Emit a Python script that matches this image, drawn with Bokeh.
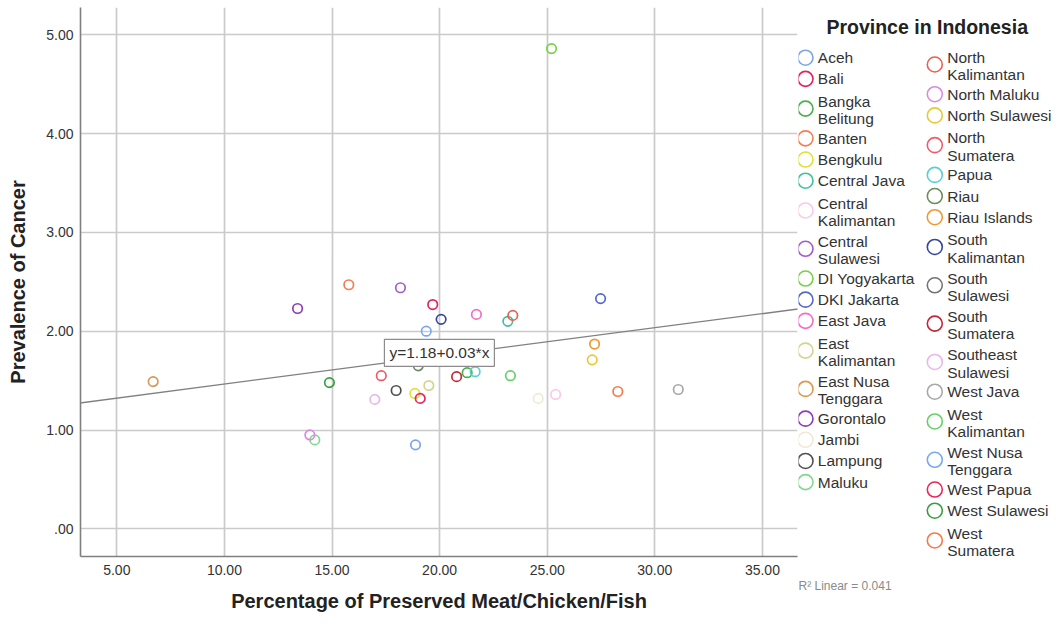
from bokeh.plotting import figure
from bokeh.models import FixedTicker, Slope, Label, ColumnDataSource, Range1d, Title
from bokeh.layouts import row
from bokeh.core.properties import value
from bokeh.embed import file_html
from bokeh.resources import INLINE

# ---------------- data ----------------
provinces = [
    "Aceh", "Bali", "Bangka Belitung", "Banten", "Bengkulu", "Central Java",
    "Central Kalimantan", "Central Sulawesi", "DI Yogyakarta", "DKI Jakarta",
    "East Java", "East Kalimantan", "East Nusa Tenggara", "Gorontalo", "Jambi",
    "Lampung", "Maluku", "North Kalimantan", "North Maluku", "North Sulawesi",
    "North Sumatera", "Papua", "Riau", "Riau Islands", "South Kalimantan",
    "South Sulawesi", "South Sumatera", "Southeast Sulawesi", "West Java",
    "West Kalimantan", "West Nusa Tenggara", "West Papua", "West Sulawesi",
    "West Sumatera",
]
legend_labels = [
    "Aceh", "Bali", "Bangka\nBelitung", "Banten", "Bengkulu", "Central Java",
    "Central\nKalimantan", "Central\nSulawesi", "DI Yogyakarta", "DKI Jakarta",
    "East Java", "East\nKalimantan", "East Nusa\nTenggara", "Gorontalo", "Jambi",
    "Lampung", "Maluku", "North\nKalimantan", "North Maluku", "North Sulawesi",
    "North\nSumatera", "Papua", "Riau", "Riau Islands", "South\nKalimantan",
    "South\nSulawesi", "South\nSumatera", "Southeast\nSulawesi", "West Java",
    "West\nKalimantan", "West Nusa\nTenggara", "West Papua", "West Sulawesi",
    "West\nSumatera",
]
preserved_pct = [
    18.88, 19.68, 21.28, 15.78, 18.85, 23.17,
    25.39, 18.18, 25.20, 27.48,
    21.71, 19.50, 6.69, 13.40, 24.58,
    17.98, 14.20, 23.40, 13.97, 27.09,
    17.29, 21.65, 19.01, 27.20, 20.07,
    20.50, 20.79, 16.99, 31.09,
    23.29, 19.38, 19.10, 14.88,
    28.28,
]
cancer_prev = [
    0.85, 2.27, 1.58, 2.47, 1.37, 2.10,
    1.36, 2.44, 4.86, 2.33,
    2.17, 1.45, 1.49, 2.23, 1.32,
    1.40, 0.90, 2.16, 0.95, 1.71,
    1.55, 1.59, 1.65, 1.87, 2.12,
    1.80, 1.54, 1.31, 1.41,
    1.55, 2.00, 1.32, 1.48,
    1.39,
]
colors = [
    "#7aa6e8", "#e0245e", "#4cae4c", "#f47c52", "#e2de3c", "#3fc0a0",
    "#fcc8e8", "#a45cc8", "#78d048", "#5468c8",
    "#f06ec8", "#d4d490", "#d89850", "#8c3cb4", "#efead4",
    "#505050", "#80d890", "#e86050", "#d88ae0", "#e8c838",
    "#f25868", "#58d0d0", "#6c8c5c", "#f09830", "#34479c",
    "#747474", "#c02838", "#e8b8ec", "#a8a8a8",
    "#68d068", "#78a8f0", "#e8285c", "#38a040",
    "#f87848",
]
x_ticks = [5, 10, 15, 20, 25, 30, 35]
x_tick_labels = ["5.00", "10.00", "15.00", "20.00", "25.00", "30.00", "35.00"]
y_ticks = [0, 1, 2, 3, 4, 5]
y_tick_labels = [".00", "1.00", "2.00", "3.00", "4.00", "5.00"]
fit_intercept = 1.18
fit_slope = 0.0285
fit_text = "y=1.18+0.03*x"
r2_text = "R\u00b2 Linear = 0.041"
legend_title = "Province in Indonesia"
x_title = "Percentage of Preserved Meat/Chicken/Fish"
y_title = "Prevalence of Cancer"

FONT = "Liberation Sans"
TOTAL_W, TOTAL_H = 1052, 614
MAIN_W = 798
FRAME_TOP, FRAME_BOTTOM = 7, 557

# ---------------- main plot ----------------
p = figure(width=MAIN_W, height=TOTAL_H,
           x_range=Range1d(3.313, 36.63), y_range=Range1d(-0.28, 5.276),
           output_backend="svg", toolbar_location=None,
           min_border_left=80, min_border_right=1,
           min_border_top=FRAME_TOP, min_border_bottom=TOTAL_H - FRAME_BOTTOM)
p.outline_line_color = None
p.background_fill_color = "white"

src = ColumnDataSource(dict(x=preserved_pct, y=cancer_prev, c=colors, name=provinces))

p.xaxis.ticker = FixedTicker(ticks=x_ticks)
p.yaxis.ticker = FixedTicker(ticks=y_ticks)
p.xaxis.major_label_overrides = {t: l for t, l in zip(x_ticks, x_tick_labels)}
p.yaxis.major_label_overrides = {t: l for t, l in zip(y_ticks, y_tick_labels)}
p.xgrid.ticker = FixedTicker(ticks=x_ticks)
p.ygrid.ticker = FixedTicker(ticks=y_ticks)
p.grid.grid_line_color = "#cacaca"
p.grid.grid_line_width = 1.7

for ax in (p.xaxis[0], p.yaxis[0]):
    ax.axis_line_color = "#7f7f7f"
    ax.axis_line_width = 1.6
    ax.major_tick_line_color = None
    ax.minor_tick_line_color = None
    ax.major_tick_out = 0
    ax.major_tick_in = 0
    ax.major_label_text_font = FONT
    ax.major_label_text_font_size = "14px"
    ax.major_label_text_color = "#333333"
    ax.axis_label_text_font = FONT
    ax.axis_label_text_font_size = "20px"
    ax.axis_label_text_font_style = "bold"
    ax.axis_label_text_color = "#222222"

p.xaxis.axis_label = x_title
p.yaxis.axis_label = y_title
p.xaxis.major_label_standoff = 8
p.xaxis.axis_label_standoff = 12
p.yaxis.major_label_standoff = 7
p.yaxis.axis_label_standoff = 14

p.scatter("x", "y", source=src, marker="circle", size=9.5,
          fill_color=None, line_color="c", line_width=1.7)

p.add_layout(Slope(gradient=fit_slope, y_intercept=fit_intercept,
                   line_color="#808080", line_width=1.3))

p.add_layout(Label(x=19.99, y=1.78, text=fit_text, text_align="center",
                   text_baseline="middle", text_font=FONT, text_font_size="15.5px",
                   text_color="#333333", background_fill_color="white",
                   border_line_color="#8c8c8c", border_line_width=1.2,
                   padding=5))

# ---------------- legend panel ----------------
# the frame of this panel is aligned with the main frame: map y to pixel rows
LW = TOTAL_W - MAIN_W
lg = figure(width=LW, height=TOTAL_H, x_range=Range1d(0, LW),
            y_range=Range1d(FRAME_BOTTOM, FRAME_TOP),
            output_backend="svg", toolbar_location=None, min_border=0,
            x_axis_type=None, y_axis_type=None)
lg.outline_line_color = None
lg.grid.visible = False

per_col = 17
col_marker_x = [7, 136.3]
col_text_x = [19.3, 148.7]
col_top0 = [46.7, 44.9]
h_single, h_double = 21.2, 38.4

mx, my, mc = [], [], []
tx, ty, tt = [], [], []
for ci in range(2):
    top = col_top0[ci]
    for i in range(ci * per_col, min((ci + 1) * per_col, len(legend_labels))):
        lines = legend_labels[i].split("\n")
        if len(lines) == 1:
            h = h_single
            ys = [top + 10.6]
        else:
            h = h_double
            ys = [top + 12.0, top + 29.3]
        mx.append(col_marker_x[ci])
        my.append(top + h / 2)
        mc.append(colors[i])
        for ln, yy in zip(lines, ys):
            tx.append(col_text_x[ci])
            ty.append(yy)
            tt.append(ln)
        top += h

lg.scatter(mx, my, marker="circle", size=15, fill_color=None, line_color=mc, line_width=1.6)
lg.text(tx, ty, text=tt, text_font=value(FONT), text_font_size=value("15.5px"),
        text_baseline="middle", text_align="left", text_color="#333333")
lg.text([128.7], [26.7], text=[legend_title], text_font=value(FONT),
        text_font_size=value("19.5px"), text_font_style="bold",
        text_baseline="middle", text_align="center", text_color="#222222")

lg.add_layout(Title(text=r2_text, align="left", vertical_align="bottom",
                    text_font=FONT, text_font_size="12px",
                    text_font_style="normal", text_color="#8a8a8a", standoff=40,
                    offset=0), "below")

layout = row(p, lg)
open("out.html", "w").write(file_html(layout, INLINE))
